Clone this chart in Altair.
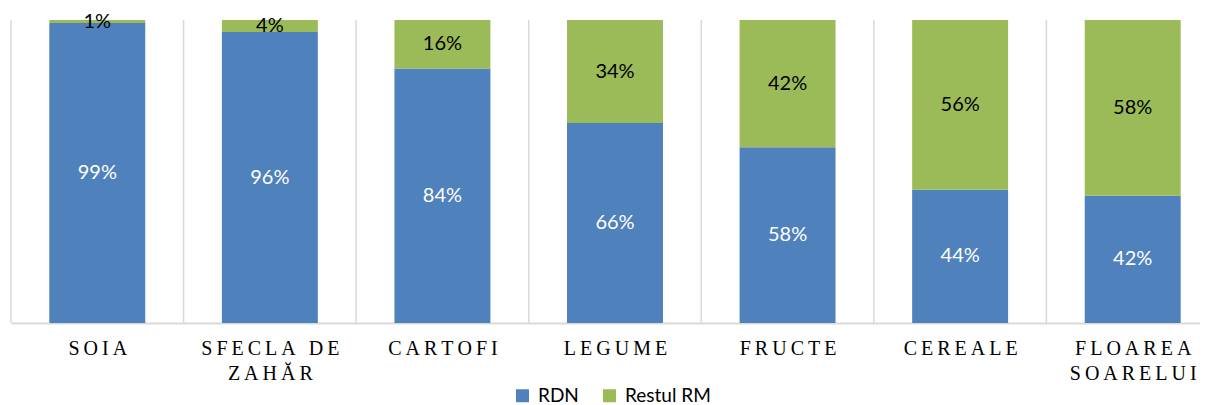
import json
import altair as alt
import pandas as pd

categories = ["SOIA", "SFECLA DE|ZAHĂR", "CARTOFI", "LEGUME", "FRUCTE", "CEREALE", "FLOAREA|SOARELUI"]
rdn = [99, 96, 84, 66, 58, 44, 42]
restul = [1, 4, 16, 34, 42, 56, 58]
series = ["RDN", "Restul RM"]
colors = ["#4f81bd", "#9bbb59"]
text_colors = ["white", "black"]

TS = "\u2009"


def spaced(s):
    return "|".join(TS.join(list(part)) for part in s.split("|"))


labels = [spaced(c) for c in categories]
n = len(categories)

rows = []
for i, (a, b) in enumerate(zip(rdn, restul)):
    rows.append({"idx": i, "serie": series[0], "value": a, "ord": 0, "tcol": text_colors[0]})
    rows.append({"idx": i, "serie": series[1], "value": b, "ord": 1, "tcol": text_colors[1]})
df = pd.DataFrame(rows)
bounds = pd.DataFrame({"pos": list(range(n)), "lo": 0, "hi": 100})

PLOT_W = 1189
STEP = 172.57
VISIBLE = PLOT_W / STEP  # the last category runs slightly past the right edge
HALF = 0.278

xscale = alt.Scale(domain=[0, VISIBLE], nice=False, zero=False)
yscale = alt.Scale(domain=[0, 100])

label_expr = "split(" + json.dumps(labels, ensure_ascii=False) + "[floor(datum.value)], '|')"

xaxis = alt.Axis(title=None, grid=False, ticks=False, values=[i + 0.5 for i in range(n)],
                 domainColor="#d9d9d9", domainWidth=2,
                 labelAngle=0, labelFont="Liberation Serif", labelFontSize=20,
                 labelColor="black", labelPadding=15, labelBaseline="top",
                 labelExpr=label_expr, labelLineHeight=25, labelOverlap=False,
                 labelFlush=False, labelBound=False)

base = alt.Chart(df).transform_stack(
    stack="value", groupby=["idx"], as_=["y0", "y1"], sort=[alt.SortField("ord", order="ascending")]
).transform_calculate(
    mid="(datum.y0 + datum.y1) / 2", lab="datum.value + '%'",
    xc="datum.idx + 0.5", xl="datum.idx + 0.5 - %f" % HALF, xr="datum.idx + 0.5 + %f" % HALF,
)

grid = alt.Chart(bounds).mark_rule(color="#d9d9d9", strokeWidth=1.5).encode(
    x=alt.X("pos:Q", scale=xscale, axis=xaxis),
    y=alt.Y("lo:Q", scale=yscale, axis=None),
    y2="hi:Q",
)

bars = base.mark_bar().encode(
    x=alt.X("xl:Q", scale=xscale, axis=xaxis),
    x2="xr:Q",
    y=alt.Y("y0:Q", scale=yscale, axis=None),
    y2="y1:Q",
    color=alt.Color("serie:N", scale=alt.Scale(domain=series, range=colors),
                    legend=alt.Legend(title=None, orient="none", direction="horizontal",
                                      legendX=502, legendY=366, symbolType="square",
                                      symbolSize=169, symbolStrokeWidth=0,
                                      labelFont="Lato", labelFontSize=19, labelColor="black",
                                      columnPadding=21, labelOffset=6)),
)

texts = base.mark_text(font="Lato", fontSize=20, baseline="middle").encode(
    x=alt.X("xc:Q", scale=xscale, axis=xaxis),
    y=alt.Y("mid:Q", scale=yscale, axis=None),
    text="lab:N",
    color=alt.Color("tcol:N", scale=None),
)

chart = alt.layer(grid, bars, texts).properties(
    width=PLOT_W, height=303,
    autosize=alt.AutoSizeParams(type="none"),
    padding={"left": 3, "top": 12, "right": 0, "bottom": 82},
).configure_view(strokeWidth=0)

chart.save("out.html", embed_options={"renderer": "svg", "actions": False})
